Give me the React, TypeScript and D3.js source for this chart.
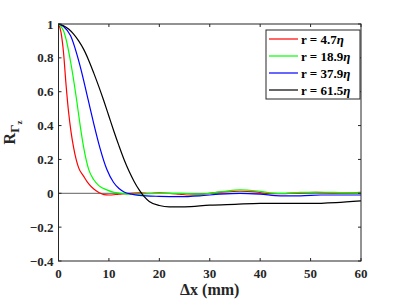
import React, { useEffect, useRef } from 'react';
import * as d3 from 'd3';

// values
const xTicks = [0, 10, 20, 30, 40, 50, 60];
const yTicks = [-0.4, -0.2, 0, 0.2, 0.4, 0.6, 0.8, 1];

const seriesNames = ['r = 4.7', 'r = 18.9', 'r = 37.9', 'r = 61.5'];
const seriesColors = ['#ff0000', '#00ff00', '#0000ff', '#000000'];

const redX = [0, 0.5, 1, 1.5, 2, 2.5, 3, 3.5, 4, 5, 6, 7, 8, 9, 10, 12, 14, 16, 18, 20, 22, 24, 26, 28, 30, 33, 36, 39, 42, 45, 48, 51, 54, 57, 60];
const redY = [1, 0.95, 0.83, 0.64, 0.48, 0.36, 0.27, 0.2, 0.15, 0.1, 0.055, 0.025, 0.005, -0.008, -0.01, -0.005, 0, 0.002, 0, 0.002, 0, -0.005, -0.01, -0.008, 0, 0.008, 0.012, 0.008, -0.002, -0.002, 0.003, 0.005, 0.003, 0.002, 0.005];

const greenX = [0, 1, 1.5, 2.5, 3.6, 4.3, 5, 6, 7, 8, 9.6, 11, 12.5, 14, 16, 20, 24, 27, 30, 33, 36, 39, 42, 45, 48, 52, 56, 60];
const greenY = [1, 0.96, 0.91, 0.76, 0.55, 0.4, 0.27, 0.14, 0.08, 0.045, 0.02, 0.005, 0, -0.005, -0.005, 0, 0, -0.005, 0, 0.012, 0.02, 0.015, 0.003, 0, 0.005, 0.006, 0.004, 0.002];

const blueX = [0, 1, 2.4, 4.3, 5.9, 7, 8.2, 9.6, 10.9, 12, 13, 14.5, 16, 20, 24, 28, 32, 36, 40, 44, 48, 52, 56, 60];
const blueY = [1, 0.985, 0.93, 0.75, 0.55, 0.41, 0.27, 0.14, 0.065, 0.028, 0.008, -0.005, -0.012, -0.018, -0.02, -0.015, -0.005, 0, -0.005, -0.015, -0.015, -0.01, -0.01, -0.01];

const blackX = [0, 1, 2, 3, 4, 5, 6, 7, 8, 9, 10, 11, 12, 13, 14, 15, 16, 17, 18, 20, 22, 25, 30, 35, 40, 45, 50, 55, 60];
const blackY = [1, 0.99, 0.97, 0.94, 0.9, 0.85, 0.785, 0.71, 0.63, 0.545, 0.455, 0.365, 0.28, 0.2, 0.13, 0.07, 0.02, -0.02, -0.048, -0.072, -0.08, -0.08, -0.07, -0.065, -0.06, -0.06, -0.06, -0.055, -0.045];

const allX = [redX, greenX, blueX, blackX];
const allY = [redY, greenY, blueY, blackY];

export default function App() {
  const ref = useRef<SVGSVGElement | null>(null);

  useEffect(() => {
    const W = 399, H = 299;
    const margin = { top: 24, right: 38, bottom: 38, left: 58.5 };
    const width = W - margin.left - margin.right;
    const height = H - margin.top - margin.bottom;
    const axisColor = '#262626';
    const font = 'Liberation Serif';

    const svg = d3.select(ref.current);
    svg.selectAll('*').remove();

    const x = d3.scaleLinear().domain([0, 60]).range([0, width]);
    const y = d3.scaleLinear().domain([-0.4, 1]).range([height, 0]);

    const g = svg.append('g')
      .attr('transform', 'translate(' + margin.left + ',' + margin.top + ')')
      .attr('font-family', font)
      .attr('font-weight', 'bold');

    // zero line
    g.append('line')
      .attr('x1', 0).attr('x2', width)
      .attr('y1', y(0)).attr('y2', y(0))
      .attr('stroke', '#808080')
      .attr('stroke-width', 1.2);

    const line = d3.line<[number, number]>()
      .x(d => x(d[0]))
      .y(d => y(d[1]))
      .curve(d3.curveMonotoneX);

    allX.forEach((xs, i) => {
      const pts: [number, number][] = xs.map((v, j) => [v, allY[i][j]]);
      g.append('path')
        .attr('d', line(pts))
        .attr('fill', 'none')
        .attr('stroke', seriesColors[i])
        .attr('stroke-width', 1.2);
    });

    // box + inward ticks (matlab style)
    const tickLen = 3;
    g.append('rect')
      .attr('width', width).attr('height', height)
      .attr('fill', 'none')
      .attr('stroke', axisColor)
      .attr('stroke-width', 1);

    xTicks.forEach(t => {
      g.append('line').attr('x1', x(t)).attr('x2', x(t)).attr('y1', height).attr('y2', height - tickLen).attr('stroke', axisColor);
      g.append('line').attr('x1', x(t)).attr('x2', x(t)).attr('y1', 0).attr('y2', tickLen).attr('stroke', axisColor);
      g.append('text')
        .attr('x', x(t)).attr('y', height + 17)
        .attr('text-anchor', 'middle')
        .attr('font-size', 13)
        .attr('fill', axisColor)
        .text(t);
    });

    yTicks.forEach(t => {
      g.append('line').attr('x1', 0).attr('x2', tickLen).attr('y1', y(t)).attr('y2', y(t)).attr('stroke', axisColor);
      g.append('line').attr('x1', width).attr('x2', width - tickLen).attr('y1', y(t)).attr('y2', y(t)).attr('stroke', axisColor);
      g.append('text')
        .attr('x', -5).attr('y', y(t)).attr('dy', '0.35em')
        .attr('text-anchor', 'end')
        .attr('font-size', 13)
        .attr('fill', axisColor)
        .text(d3.format('~g')(t));
    });

    // axis labels
    g.append('text')
      .attr('x', width / 2).attr('y', height + 34)
      .attr('text-anchor', 'middle')
      .attr('font-size', 16)
      .attr('fill', axisColor)
      .text('\u0394x (mm)');

    const yl = svg.append('text')
      .attr('transform', 'translate(15,' + (margin.top + height / 2 - 10) + ') rotate(-90)')
      .attr('text-anchor', 'middle')
      .attr('font-family', font)
      .attr('font-weight', 'bold')
      .attr('font-size', 16)
      .attr('fill', axisColor);
    yl.append('tspan').text('R');
    yl.append('tspan').attr('dy', 4).attr('font-size', 13).text('\u0393');
    yl.append('tspan').attr('dy', 3).attr('font-size', 9).text('z');

    // legend
    const lg = g.append('g').attr('transform', 'translate(' + (width - 95) + ',6)');
    lg.append('rect')
      .attr('width', 94).attr('height', 69)
      .attr('fill', '#fff')
      .attr('stroke', axisColor)
      .attr('stroke-width', 1);
    seriesNames.forEach((name, i) => {
      const yy = 9 + i * 17;
      lg.append('line')
        .attr('x1', 3).attr('x2', 32)
        .attr('y1', yy).attr('y2', yy)
        .attr('stroke', seriesColors[i])
        .attr('stroke-width', 1.2);
      const tx = lg.append('text')
        .attr('x', 35).attr('y', yy).attr('dy', '0.35em')
        .attr('font-size', 13)
        .attr('fill', '#000');
      tx.append('tspan').text(name);
      tx.append('tspan').attr('font-style', 'italic').text('\u03b7');
    });
  }, []);

  return (
    <svg ref={ref} width={399} height={299}
      style={{ position: 'absolute', left: 0, top: 0, background: '#fff' }} />
  );
}
